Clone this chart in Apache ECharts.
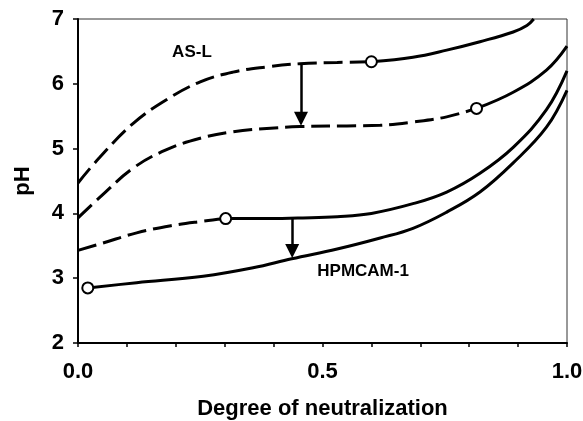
<!DOCTYPE html>
<html>
<head>
<meta charset="utf-8">
<style>
  html, body { margin: 0; padding: 0; background: #fff; }
  #chart { width: 583px; height: 421px; }
</style>
<script src="https://cdn.jsdelivr.net/npm/echarts@6/dist/echarts.min.js"></script>
</head>
<body>
<div id="chart"></div>
<script>
  // curves, [degree of neutralization, pH]
  const aslTopDashed = [[0, 4.47], [0.045, 4.87], [0.113, 5.39], [0.18, 5.75], [0.25, 6.03], [0.317, 6.18], [0.386, 6.26], [0.454, 6.31], [0.53, 6.33], [0.6, 6.34]];
  const aslTopSolid = [[0.6, 6.34], [0.685, 6.41], [0.754, 6.52], [0.822, 6.65], [0.89, 6.8], [0.918, 6.9], [0.932, 7.0]];
  const aslBottomDashed = [[0, 3.93], [0.045, 4.25], [0.113, 4.7], [0.18, 4.98], [0.25, 5.16], [0.317, 5.26], [0.386, 5.31], [0.454, 5.34], [0.55, 5.35], [0.618, 5.36], [0.685, 5.41], [0.754, 5.49], [0.815, 5.62]];
  const aslBottomSolid = [[0.815, 5.62], [0.89, 5.87], [0.958, 6.21], [1.0, 6.58]];
  const hpmTopDashed = [[0, 3.43], [0.05, 3.54], [0.12, 3.7], [0.19, 3.81], [0.256, 3.88], [0.302, 3.92]];
  const hpmTopSolid = [[0.302, 3.92], [0.39, 3.92], [0.46, 3.93], [0.53, 3.95], [0.6, 4.0], [0.685, 4.15], [0.754, 4.33], [0.822, 4.62], [0.89, 5.02], [0.958, 5.6], [1.0, 6.2]];
  const hpmBottom = [[0.02, 2.85], [0.12, 2.93], [0.256, 3.03], [0.358, 3.16], [0.437, 3.3], [0.53, 3.45], [0.618, 3.62], [0.685, 3.77], [0.754, 4.02], [0.822, 4.33], [0.89, 4.78], [0.958, 5.33], [1.0, 5.9]];

  const openMarkers = [[0.6, 6.34], [0.815, 5.62], [0.302, 3.92], [0.02, 2.85]];
  const arrows = [
    [[0.456, 6.31], [0.456, 5.46]],
    [[0.438, 3.92], [0.438, 3.42]]
  ];
  const curveLabels = [
    { name: 'AS-L', value: [0.233, 6.49] },
    { name: 'HPMCAM-1', value: [0.583, 3.11] }
  ];
  const xLabelTicks = [0, 0.5, 1.0];

  const font = 'Liberation Sans, Arial, sans-serif';

  let myChart = echarts.init(document.getElementById('chart'));

  function curve(data, dashed) {
    return {
      type: 'line',
      data: data,
      smooth: 0.4,
      symbol: 'none',
      silent: true,
      lineStyle: {
        color: '#000',
        width: 3,
        type: dashed ? [19, 7] : 'solid'
      }
    };
  }

  let option = {
    animation: false,
    backgroundColor: '#fff',
    grid: {
      left: 78, right: 16, top: 19, bottom: 78,
      outerBoundsMode: 'none',
      containLabel: false,
      show: true,
      borderColor: '#333',
      borderWidth: 1
    },
    xAxis: {
      type: 'value',
      min: 0, max: 1, interval: 0.1,
      name: 'Degree of neutralization',
      nameLocation: 'middle',
      nameGap: 55,
      nameTextStyle: { color: '#000', fontSize: 22, fontWeight: 'bold', fontFamily: font },
      axisLine: { lineStyle: { color: '#000', width: 2 } },
      axisTick: { inside: false, length: 4, lineStyle: { color: '#000', width: 1.5 } },
      axisLabel: {
        color: '#000', fontSize: 22, fontWeight: 'bold', fontFamily: font, margin: 18,
        showMaxLabel: true,
        formatter: function (v) {
          for (let t of xLabelTicks) {
            if (Math.abs(v - t) < 1e-6) return t.toFixed(1);
          }
          return '';
        }
      },
      splitLine: { show: false }
    },
    yAxis: {
      type: 'value',
      min: 2, max: 7, interval: 1,
      name: 'pH',
      nameLocation: 'middle',
      nameGap: 44,
      nameTextStyle: { color: '#000', fontSize: 22, fontWeight: 'bold', fontFamily: font },
      axisLine: { lineStyle: { color: '#000', width: 2 } },
      axisTick: { inside: false, length: 5, lineStyle: { color: '#000', width: 1.5 } },
      axisLabel: { color: '#000', fontSize: 22, fontWeight: 'bold', fontFamily: font, margin: 14 },
      splitLine: { show: false }
    },
    series: [
      curve(aslTopDashed, true),
      curve(aslTopSolid, false),
      curve(aslBottomDashed, true),
      curve(aslBottomSolid, false),
      curve(hpmTopDashed, true),
      curve(hpmTopSolid, false),
      curve(hpmBottom, false),
      {
        type: 'line',
        data: [],
        silent: true,
        markLine: {
          silent: true,
          animation: false,
          symbol: ['none', 'triangle'],
          symbolSize: [14, 14],
          label: { show: false },
          lineStyle: { color: '#000', width: 2.5, type: 'solid' },
          data: arrows.map(function (a) {
            return [{ coord: a[0] }, { coord: a[1] }];
          })
        }
      },
      {
        type: 'scatter',
        data: openMarkers,
        symbol: 'circle',
        symbolSize: 11,
        silent: true,
        z: 5,
        itemStyle: { color: '#fff', borderColor: '#000', borderWidth: 2, opacity: 1 }
      },
      {
        type: 'scatter',
        data: curveLabels,
        symbolSize: 0,
        silent: true,
        itemStyle: { opacity: 1 },
        label: {
          show: true,
          position: 'inside',
          formatter: '{b}',
          color: '#000',
          fontSize: 17,
          fontWeight: 'bold',
          fontFamily: font
        }
      }
    ]
  };

  myChart.setOption(option);
</script>
</body>
</html>
